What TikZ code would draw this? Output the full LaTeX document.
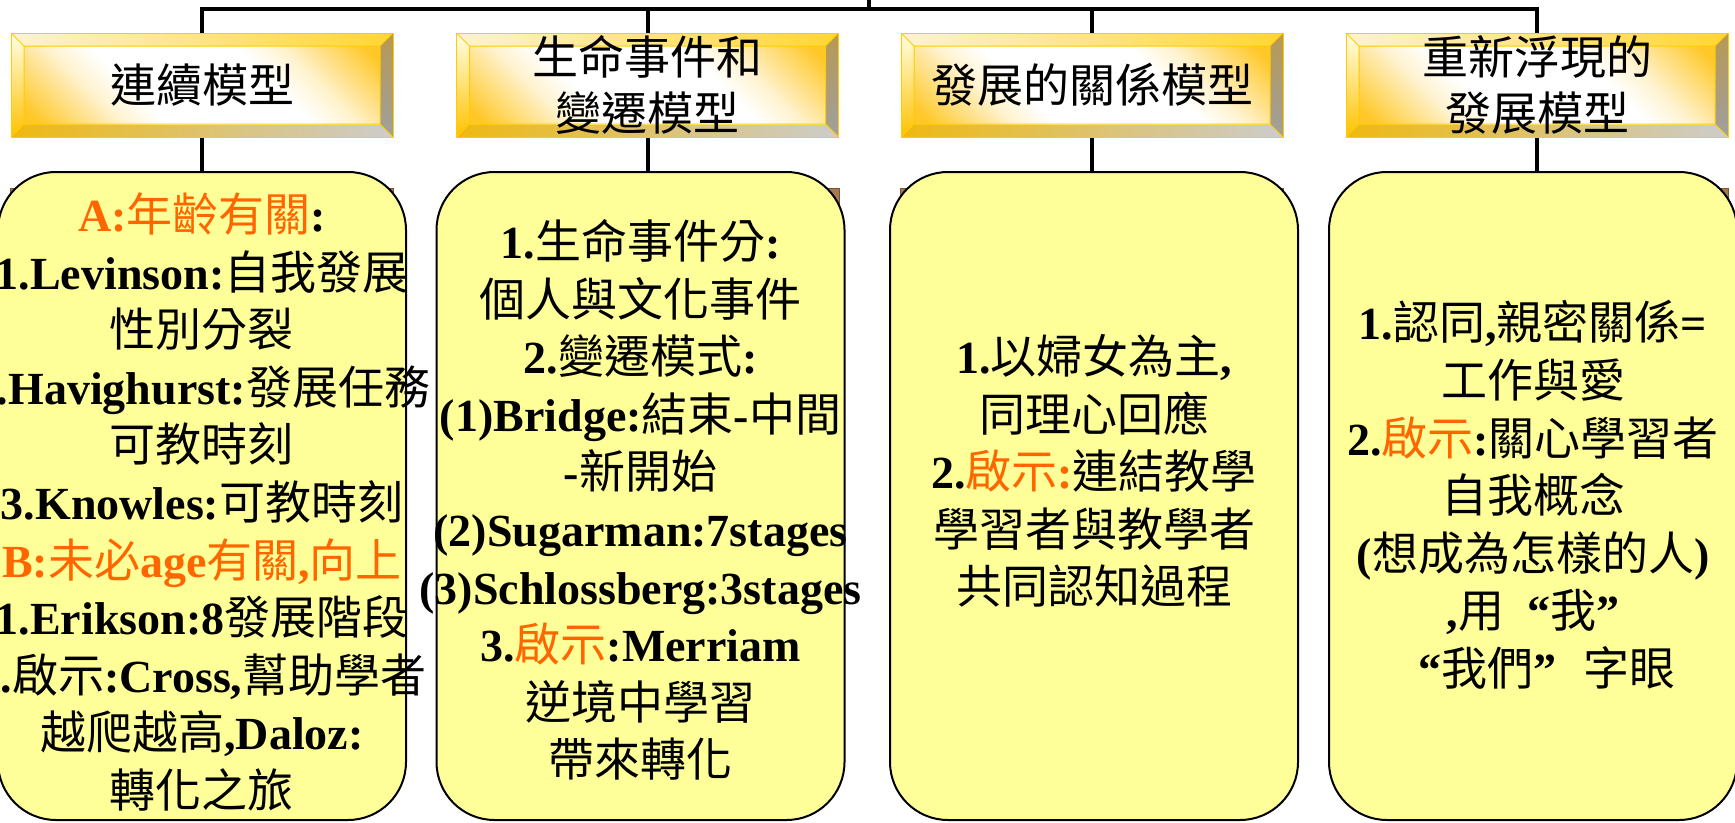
\documentclass[tikz,border=0pt]{standalone}
\usepackage{fontspec}
\setmainfont{Liberation Serif}
\newfontfamily\zhfont{Noto Sans CJK TC}
\usetikzlibrary{backgrounds}
\newcommand{\zh}[1]{{\zhfont\mdseries #1}}
\newcommand{\hl}[1]{\textcolor{hiorange}{#1}}
\definecolor{hiorange}{HTML}{FF6600}
\definecolor{notefill}{HTML}{FFFF99}
\definecolor{bevline}{HTML}{FFCC00}
\definecolor{facegold}{HTML}{FFC828}
\definecolor{facelight}{HTML}{FFF3D0}
\definecolor{hidbrown}{HTML}{A57A52}
\pgfdeclareverticalshading{bevelface}{100bp}{color(0bp)=(facegold); color(17bp)=(facegold); color(31bp)=(facelight); color(38bp)=(white); color(62bp)=(white); color(69bp)=(facelight); color(83bp)=(facegold); color(100bp)=(facegold)}
\tikzset{
  treeline/.style={line width=4pt},
  headbox/.style={minimum width=382pt, minimum height=104pt, inner sep=0pt, align=center,
    font=\fontsize{46}{56}\selectfont\zhfont, draw=bevline, line width=1pt,
    path picture={
      \path (path picture bounding box.north west) coordinate (o1)
            (path picture bounding box.north east) coordinate (o2)
            (path picture bounding box.south east) coordinate (o3)
            (path picture bounding box.south west) coordinate (o4);
      \path ([shift={(13,13)}]o1) coordinate (i1) ([shift={(-13,13)}]o2) coordinate (i2)
            ([shift={(-13,-13)}]o3) coordinate (i3) ([shift={(13,-13)}]o4) coordinate (i4);
      \shade[left color=facelight, right color=bevline!80] (o1) -- (o2) -- (i2) -- (i1) -- cycle;
      \shade[top color=white!90!yellow, bottom color=bevline!85!orange] (o1) -- (i1) -- (i4) -- (o4) -- cycle;
      \shade[top color=brown!60!olive!80, bottom color=gray!75] (o2) -- (o3) -- (i3) -- (i2) -- cycle;
      \shade[left color=bevline!75!brown, right color=gray!40] (o4) -- (i4) -- (i3) -- (o3) -- cycle;
      \shade[shading=bevelface, shading angle=-45] (i1) rectangle (i3);
      \draw[bevline, line width=1pt] (i1) rectangle (i3) (o1) -- (i1) (o2) -- (i2) (o3) -- (i3) (o4) -- (i4);
    }},
  notebox/.style={draw, line width=2pt, fill=notefill, rounded corners=58pt,
    minimum width=408pt, minimum height=648pt},
  notetext/.style={align=center, font=\fontsize{46}{57.6}\selectfont\bfseries},
  hidbox/.style={fill=hidbrown, draw=hidbrown!70!black, line width=1pt}
}
\begin{document}
\begin{tikzpicture}[x=1pt, y=-1pt]
\useasboundingbox (0,0) rectangle (1735,822);
% model titles
\node[headbox] (h1) at (202,85) {連續模型};
\node[headbox] (h2) at (647.5,85) {生命事件和\\變遷模型};
\node[headbox] (h3) at (1092,85) {發展的關係模型};
\node[headbox] (h4) at (1537,85) {重新浮現的\\發展模型};
% note cards
\foreach \i/\x in {1/202, 2/640.5, 3/1094, 4/1533}
  \node[notebox] (b\i) at (\x,496) {};
\node[notetext] (t1) at (202,502) {\hl{A:\zh{年齡有關}}:\\
  1.Levinson:\zh{自我發展}\\
  \zh{性別分裂}\\
  2.Havighurst:\zh{發展任務}\\
  \zh{可教時刻}\\
  3.Knowles:\zh{可教時刻}\\
  \hl{B:\zh{未必}age\zh{有關},\zh{向上}}\\
  1.Erikson:8\zh{發展階段}\\
  2.\zh{啟示}:Cross,\zh{幫助學者}\\
  \zh{越爬越高},Daloz:\\
  \zh{轉化之旅}};
\node[notetext] (t2) at (640.5,500) {1.\zh{生命事件分}:\\
  \zh{個人與文化事件}\\
  2.\zh{變遷模式}:\\
  (1)Bridge:\zh{結束}-\zh{中間}\\
  -\zh{新開始}\\
  (2)Sugarman:7stages\\
  (3)Schlossberg:3stages\\
  3.\hl{\zh{啟示}}:Merriam\\
  \zh{逆境中學習}\\
  \zh{帶來轉化}};
\node[notetext] (t3) at (1094,471) {1.\zh{以婦女為主},\\
  \zh{同理心回應}\\
  2.\hl{\zh{啟示}:}\zh{連結教學}\\
  \zh{學習者與教學者}\\
  \zh{共同認知過程}};
\node[notetext] (t4) at (1533,495) {1.\zh{認同},\zh{親密關係}=\\
  \zh{工作與愛}\\
  2.\hl{\zh{啟示}}:\zh{關心學習者}\\
  \zh{自我概念}\\
  (\zh{想成為怎樣的人})\\
  ,\zh{用}\hspace{.5em}“\zh{我}”\hspace*{.6em}\\
  \hspace*{.6em}“\zh{我們}”\hspace{.6em}\zh{字眼}};
% tree lines and the frames hidden behind the cards
\begin{scope}[on background layer]
  \coordinate (root) at (869,-2);
  \coordinate (bar) at (869,9);
  \draw[treeline] (root) -- (bar);
  \foreach \i in {1,...,4} {
    \draw[treeline] (bar) -| (h\i.north);
    \draw[treeline] (h\i.south) -- (h\i.south |- b\i.north);
    \filldraw[hidbox] ([yshift=-51pt]h\i.south west) rectangle ([yshift=-620pt]h\i.south east);
  }
\end{scope}
\end{tikzpicture}
\end{document}
